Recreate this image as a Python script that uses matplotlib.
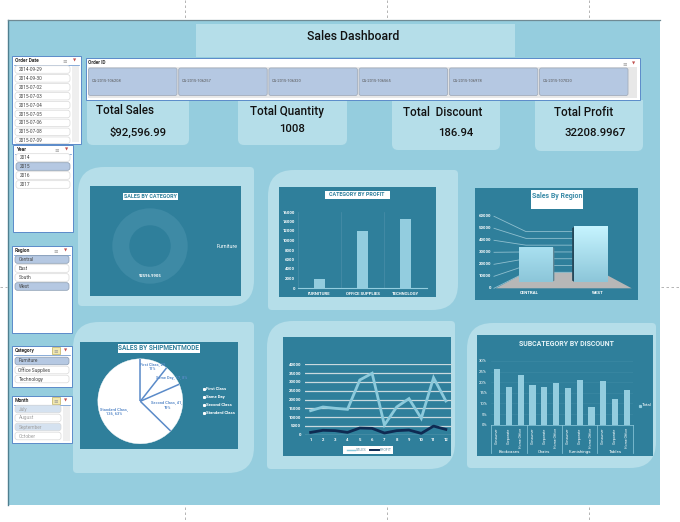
import numpy as np
import matplotlib
matplotlib.use("Agg")
import matplotlib.pyplot as plt
from matplotlib.patches import Rectangle, FancyBboxPatch, PathPatch, Polygon
from matplotlib.path import Path

plt.rcParams['font.family'] = ['Roboto', 'DejaVu Sans']

# ---------- data ----------
order_dates = ["2014-09-29", "2014-09-30", "2015-07-02", "2015-07-03", "2015-07-04",
               "2015-07-05", "2015-07-06", "2015-07-08", "2015-07-09"]
order_ids = ["CA-2015-106208", "CA-2015-106257", "CA-2015-106320",
             "CA-2015-106565", "CA-2015-106978", "CA-2015-107020"]
years = ["2014", "2015", "2016", "2017"]
regions = ["Central", "East", "South", "West"]
categories = ["Furniture", "Office Supplies", "Technology"]
months = ["July", "August", "September", "October"]

kpi_titles = ["Total Sales", "Total Quantity", "Total  Discount", "Total Profit"]
kpi_values = ["$92,596.99", "1008", "186.94", "32208.9967"]

donut_values = [100]
donut_label = "92596.9905"

profit_cats = ["FURNITURE", "OFFICE SUPPLIES", "TECHNOLOGY"]
profit_vals = [1950, 12100, 14500]
profit_ticks = list(range(0, 16001, 2000))

region_cats = ["CENTRAL", "WEST"]
region_vals = [35900, 56697]
region_ticks = list(range(0, 60001, 10000))

ship_modes = ["First Class", "Same Day", "Second Class", "Standard Class"]
ship_vals = [23, 17, 41, 136]
ship_pct = [11, 8, 19, 63]

months_num = list(range(1, 13))
sales_month = [13650, 15740, 15000, 14400, 31100, 34900, 5500, 15740, 20500, 9300, 32400, 19150]
profit_month = [1300, 2500, 2300, 1300, 3800, 3600, 950, 2300, 2650, 760, 4900, 3000]
month_ticks = list(range(0, 40001, 5000))

sub_groups = ["Bookcases", "Chairs", "Furnishings", "Tables"]
segments = ["Consumer", "Corporate", "Home Office"]
discount_vals = [26.3, 17.6, 23.3, 18.6, 17.6, 19.8, 17.3, 20.9, 8.3, 20.6, 12.1, 16.4]
discount_ticks = [0, 5, 10, 15, 20, 25, 30]

# ---------- colours ----------
PANEL = "#95CDDE"
CARD = "#B5DEE9"
CHART = "#2F7F9B"
BAR = "#93CDDF"
SEL = "#B5C8E2"
BLUE = "#5B8BC9"
W, H = 680, 522

fig = plt.figure(figsize=(W / 100, H / 100), dpi=100, facecolor="white")
bg = fig.add_axes([0, 0, 1, 1])
bg.set_xlim(0, W)
bg.set_ylim(H, 0)
bg.axis("off")
top_ax = fig.add_axes([0, 0, 1, 1], zorder=10)
top_ax.set_xlim(0, W)
top_ax.set_ylim(H, 0)
top_ax.axis("off")


def px_axes(x0, y0, x1, y1, z=3):
    a = fig.add_axes([x0 / W, 1 - y1 / H, (x1 - x0) / W, (y1 - y0) / H], zorder=z)
    a.patch.set_alpha(0)
    return a


def rbox(x0, y0, x1, y1, r=3, fc=CARD, ec="none", lw=0, z=1):
    bg.add_patch(FancyBboxPatch((x0 + r, y0 + r), x1 - x0 - 2 * r, y1 - y0 - 2 * r,
                                boxstyle=f"round,pad={r},rounding_size={r}",
                                fc=fc, ec=ec, lw=lw, zorder=z))


def leaf(x0, y0, x1, y1, r=26, small=4, z=1):
    """Card with big round top-left and bottom-right corners."""
    verts = [(x0 + r, y0), (x1 - small, y0), (x1, y0), (x1, y0 + small),
             (x1, y1 - r), (x1, y1), (x1 - r, y1),
             (x0 + small, y1), (x0, y1), (x0, y1 - small),
             (x0, y0 + r), (x0, y0), (x0 + r, y0), (x0 + r, y0)]
    codes = [Path.MOVETO, Path.LINETO, Path.CURVE3, Path.CURVE3,
             Path.LINETO, Path.CURVE3, Path.CURVE3,
             Path.LINETO, Path.CURVE3, Path.CURVE3,
             Path.LINETO, Path.CURVE3, Path.CURVE3, Path.CLOSEPOLY]
    bg.add_patch(PathPatch(Path(verts, codes), fc=CARD, ec="none", zorder=z))


# ---------- page ----------
bg.add_patch(Rectangle((8, 20), 651.5, 485, fc=PANEL, ec="none", zorder=0))
bg.plot([8, 8], [20, 505], color="#4F7F8F", lw=1.0, zorder=1)
bg.plot([8, 659.5], [20, 20], color="#6F8A94", lw=0.9, zorder=1)
DASH = dict(color="#A8A8A8", lw=0.6, ls=(0, (3, 3)), zorder=0)
for x in (185, 387, 589):
    bg.plot([x, x], [0, 18], **DASH)
    bg.plot([x, x], [507, 522], **DASH)
bg.plot([0, 7], [287, 287], **DASH)
bg.plot([661, 680], [287, 287], **DASH)

bg.add_patch(Rectangle((196, 24), 319, 33, fc=CARD, ec="none", zorder=1))
bg.text(353.5, 36, "Sales Dashboard", ha="center", va="center", fontsize=8.8,
        fontweight="medium", color="#111111", zorder=5)


# ---------- slicers ----------
def slicer(x0, y0, x1, y1, title, items, selected, pitch, first, faded=False, scroll=False, tinted=False):
    bg.add_patch(Rectangle((x0, y0), x1 - x0, y1 - y0, fc="white", ec=BLUE, lw=0.7, zorder=6))
    bg.text(x0 + 3, y0 + 4.5, title, fontsize=3.6, fontweight="bold", va="center", color="#333333", zorder=7)
    bg.plot([x0 + 2, x1 - 2], [y0 + 8.5, y0 + 8.5], color=BLUE, lw=0.5, zorder=7)
    if tinted:
        bg.add_patch(Rectangle((x1 - 20, y0 + 1), 8, 7, fc="#F2E8B0", ec="#B0A040", lw=0.4, zorder=7))
    bg.text(x1 - 16, y0 + 4.5, "≡", fontsize=4, ha="center", va="center", color="#999999", zorder=8)
    bg.text(x1 - 6, y0 + 4.5, "▼", fontsize=3, ha="center", va="center", color="#C0504D", zorder=8)
    right = x1 - 11 if scroll else x1 - 3
    if scroll:
        bg.add_patch(Rectangle((x1 - 9, y0 + 10), 7, y1 - y0 - 12, fc="#EFEFEF", ec="none", zorder=7))
    for i, it in enumerate(items):
        yc = first + i * pitch
        sel = i in selected
        fc = ("#D5E2F0" if faded else SEL) if sel else "white"
        rbox(x0 + 3, yc - pitch / 2 + 0.7, right, min(yc + pitch / 2 - 0.7, y1 - 0.5), r=2.5, fc=fc,
             ec="#8A9BB0" if sel and not faded else "#D9D9D9", lw=0.5, z=7)
        bg.text(x0 + 6.5, yc, it, fontsize=3.4, va="center",
                color="#A0A0A0" if faded else "#444444", zorder=8)


slicer(12, 56, 81, 144, "Order Date", order_dates, [], 8.9, 69.5, scroll=True)
slicer(13, 145, 73, 232, "Year", years, [1], 9, 157.5)
slicer(12, 246, 72, 333, "Region", regions, [0, 3], 9, 259.5)
slicer(12, 346, 72, 387, "Category", categories, [0], 9, 361, tinted=True)
slicer(12, 396, 72, 443, "Month", months, [0, 2], 9, 409, faded=True, scroll=True, tinted=True)

# Order ID slicer (horizontal)
bg.add_patch(Rectangle((86, 58), 554, 42, fc="white", ec=BLUE, lw=0.7, zorder=6))
bg.text(88, 63, "Order ID", fontsize=3.4, fontweight="bold", va="center", color="#333333", zorder=7)
bg.text(625, 63.5, "≡", fontsize=4, ha="center", va="center", color="#999999", zorder=8)
bg.text(634, 63.5, "▼", fontsize=3, ha="center", va="center", color="#C0504D", zorder=8)
bg.add_patch(Rectangle((88, 67), 549, 31, fc="#E8E8E8", ec="none", zorder=6))
for i, oid in enumerate(order_ids):
    x0 = 88.5 + i * 90.2
    rbox(x0, 68, x0 + 88.5, 95.5, r=2, fc=SEL, ec="#A3AEBD", lw=0.6, z=7)
    bg.text(x0 + 3, 81.5, oid, fontsize=2.9, va="center", color="#555555", zorder=8)

# ---------- KPI cards ----------
kpi_boxes = [(87, 100, 189, 145), (238, 100, 347, 145), (392, 100, 500, 150), (535, 100, 643, 151)]
kpi_title_pos = [(96, 110), (250, 112), (403, 113), (554, 113)]
kpi_val_pos = [(138.5, 132.5), (292.5, 129.5), (456, 133), (595, 133.5)]
for box, t, tp, v, vp in zip(kpi_boxes, kpi_titles, kpi_title_pos, kpi_values, kpi_val_pos):
    rbox(*box, r=6, z=2)
    bg.add_patch(Rectangle((box[0], box[1]), box[2] - box[0], 8, fc=CARD, ec="none", zorder=2))
    bg.text(tp[0], tp[1], t, fontsize=8.4, fontweight="medium", va="center", color="#111111", zorder=5)
    bg.text(vp[0], vp[1], v, fontsize=8.2, fontweight="medium", va="center", ha="center", color="#111111", zorder=5)

# ---------- chart cards ----------
leaf(78, 167, 254, 306)
leaf(268, 170, 458, 310)
leaf(73, 322, 254, 473)
leaf(267, 321, 455, 469)
leaf(467, 323, 656, 468)

for x0, y0, x1, y1 in [(90, 186, 241, 296), (279, 187, 436, 297), (475, 188, 638, 300),
                       (80, 342, 238, 449), (283, 337, 451, 456), (477, 335, 653, 456)]:
    bg.add_patch(Rectangle((x0, y0), x1 - x0, y1 - y0, fc=CHART, ec="none", zorder=2))


def title_box(xc, yc, w, h, s, fs=3.9, color="#2F7F9B", ty=None):
    bg.add_patch(Rectangle((xc - w / 2, yc - h / 2), w, h, fc="white", ec="none", zorder=4))
    bg.text(xc, yc if ty is None else ty, s, ha="center", va="center", fontsize=fs, fontweight="bold",
            color=color, zorder=5)


# 1. donut
title_box(150.5, 196, 55, 7, "SALES BY CATEGORY")
ax = px_axes(112.3, 208.3, 187.7, 283.7)
ax.pie(donut_values, radius=1, colors=["#3E8AA5"], startangle=90,
       wedgeprops=dict(width=0.45, ec="none"))
ax.set_xlim(-1, 1)
ax.set_ylim(-1, 1)
top_ax.text(150.5, 276, donut_label, ha="center", va="center", fontsize=3, fontweight="bold", color="white")
top_ax.text(227, 246.5, categories[0], ha="center", va="center", fontsize=3.8, color="white")

# 2. category by profit
title_box(357, 195, 65, 8, "CATEGORY BY PROFIT")
ax = px_axes(298, 212, 427, 288)
ax.bar(range(3), profit_vals, width=0.27, color=BAR, zorder=3)
ax.set_xlim(-0.5, 2.5)
ax.set_ylim(0, 16000)
ax.set_xticks(range(3), profit_cats)
ax.set_yticks(profit_ticks)
ax.tick_params(length=0, colors="white", labelsize=3.1, pad=2)
for l in ax.get_xticklabels() + ax.get_yticklabels():
    l.set_fontweight("bold")
for v in (0.5, 1.5):
    ax.axvline(v, color="#4A8EA8", lw=0.5)
for s in ("top", "right"):
    ax.spines[s].set_visible(False)
ax.spines["left"].set_color("#4A8EA8")
ax.spines["left"].set_linewidth(0.5)
ax.spines["bottom"].set_color(BAR)
ax.spines["bottom"].set_linewidth(0.8)
ax.tick_params(axis="x", pad=3)

# 3. sales by region (pseudo 3-D)
title_box(557, 199.5, 52, 19, "Sales By Region", fs=5, color="#3C8CA8", ty=196)
bg.add_patch(Polygon([(495.7, 288.3), (631.7, 288.3), (601.7, 272.3), (525.7, 272.3)],
                     fc="#B7B7B7", ec="none", zorder=3))
for t in region_ticks:
    f = t / region_ticks[-1]
    yl = 288.3 - f * 72
    yb = 272.3 - f * 40.7
    bg.plot([494, 526, 574], [yl, yb, yb], color="#8FBFCF", lw=0.6, zorder=3)
    bg.text(491, yl, str(t), ha="right", va="center", fontsize=3.1, fontweight="bold", color="white", zorder=5)
ax = px_axes(507.75, 223.7, 618.75, 282, z=4)
ax.set_xlim(-0.5, 1.5)
ax.set_ylim(0, region_ticks[-1])
ax.axis("off")
tops = ["#A9E0F0", "#C6F4FF"]
for i, (b, top) in enumerate(zip(ax.bar(range(2), region_vals, width=0.6, color="none"), tops)):
    grad = np.linspace(0, 1, 64)[:, None, None] * (np.array(matplotlib.colors.to_rgb("#8CC6D9")) -
                                                 np.array(matplotlib.colors.to_rgb(top))) + \
        np.array(matplotlib.colors.to_rgb(top))
    ax.imshow(grad, extent=(b.get_x(), b.get_x() + b.get_width(), 0, b.get_height()),
              aspect="auto", zorder=3)
    dx = 0.04
    x_edge = b.get_x() + b.get_width() if i == 0 else b.get_x()
    sign = 1 if i == 0 else -1
    ax.add_patch(Polygon([(x_edge, 0), (x_edge, b.get_height()),
                          (x_edge + sign * dx, b.get_height() * 0.98), (x_edge + sign * dx, 1500)],
                         fc="#5F8796" if i == 0 else "#25485A", ec="none", zorder=2, clip_on=False))
ax.set_xlim(-0.5, 1.5)
ax.set_ylim(0, region_ticks[-1])
for c, xc in zip(region_cats, (529.5, 598)):
    bg.text(xc, 293, c, ha="center", va="center", fontsize=3.2, fontweight="bold", color="white", zorder=5)

# 4. pie
title_box(158.5, 348.5, 82, 8.5, "SALES BY SHIPMENTMODE", fs=4.7)
ax = px_axes(97, 358, 183.6, 444.6)
wedges, _ = ax.pie(ship_vals, startangle=90, counterclock=False, radius=1,
                   colors=["white"] * 4, wedgeprops=dict(ec="white", lw=0.3))
ax.set_xlim(-1.02, 1.02)
ax.set_ylim(-1.02, 1.02)
for w_ in wedges:
    a_ = np.deg2rad(w_.theta1)
    ax.plot([0, np.cos(a_)], [0, np.sin(a_)], color=BLUE, lw=1.1, zorder=5, solid_capstyle="butt")
pie_lab = [(152.7, 367), (172, 378), (167, 405.7), (114, 412)]
pie_text = ["{m}, {v},\n{p}%", "{m}, {v}, {p}%", "{m}, {v},\n{p}%", "{m},\n{v}, {p}%"]
for fmt, m, v, p, (x, y) in zip(pie_text, ship_modes, ship_vals, ship_pct, pie_lab):
    top_ax.text(x, y, fmt.format(m=m, v=v, p=p), ha="center", va="center", fontsize=2.8,
                fontweight="bold", color=BLUE, linespacing=1.2)
for i, m in enumerate(ship_modes):
    yy = 388.7 + i * 8
    bg.plot([203.5], [yy], "s", ms=1.2, color="white", zorder=5)
    bg.text(206, yy, m, fontsize=3.1, fontweight="bold", va="center", color="white", zorder=5)

# 5. line chart
ax = px_axes(304.5, 364.3, 452, 434.7)
ax.plot(months_num, sales_month, color="#8CCADC", lw=2, zorder=3, label="SALES", solid_joinstyle="miter")
ax.plot(months_num, profit_month, color="#0E2A52", lw=2, zorder=4, label="PROFIT")
ax.set_xlim(0.5, 12.5)
ax.set_ylim(0, 40000)
ax.set_xticks(months_num)
ax.set_yticks(month_ticks)
ax.grid(axis="y", color="#C9D9DE", lw=0.9, zorder=1)
ax.tick_params(length=0, colors="white", labelsize=3.1, pad=2.5)
for l in ax.get_xticklabels() + ax.get_yticklabels():
    l.set_fontweight("bold")
for s in ax.spines.values():
    s.set_visible(False)
bg.add_patch(Rectangle((343, 445.7), 49.7, 8, fc="white", ec="none", zorder=4))
bg.plot([347, 355], [449.7, 449.7], color="#8CCADC", lw=1, zorder=5)
bg.text(356, 449.7, "SALES", fontsize=2.6, va="center", color="#5B8BA0", zorder=5)
bg.plot([370, 379], [449.7, 449.7], color="#0E2A52", lw=1.4, zorder=5)
bg.text(380, 449.7, "PROFIT", fontsize=2.6, va="center", color="#5B8BA0", zorder=5)

# 6. subcategory by discount
bg.text(566, 343.5, "SUBCATEGORY BY DISCOUNT", ha="center", va="center", fontsize=5,
        fontweight="bold", color="#E6F4F8", zorder=5)
ax = px_axes(491.3, 361, 632.7, 424.7)
ax.bar(range(12), discount_vals, width=0.52, color=BAR, zorder=3)
ax.set_xlim(-0.5, 11.5)
ax.set_ylim(0, 30)
ax.set_yticks(discount_ticks, [f"{t}%" for t in discount_ticks])
ax.set_xticks([])
ax.tick_params(length=0, colors="white", labelsize=3.1, pad=3)
ax.grid(axis="y", color="#3F8BA5", lw=0.4, zorder=1)
for s in ("top", "right", "left"):
    ax.spines[s].set_visible(False)
ax.spines["bottom"].set_color(BAR)
ax.spines["bottom"].set_linewidth(0.5)
for i in range(12):
    ax.annotate(segments[i % 3], xy=(i, 0), xytext=(0, -2), textcoords="offset points",
                rotation=90, ha="center", va="top", fontsize=2.6, color="white", annotation_clip=False)
for g in range(5):
    ax.plot([g * 3 - 0.5] * 2, [0, -13.5], color=BAR, lw=0.5, clip_on=False)
for g, name in enumerate(sub_groups):
    ax.text(g * 3 + 1, -12.7, name, ha="center", va="center", fontsize=3.2, color="white", clip_on=False)
bg.plot([639.5], [406], "s", ms=1.3, color=BAR, zorder=6)
bg.text(641.5, 405, "Total", fontsize=3.1, va="center", color="white", zorder=6)

fig.savefig("out.png", dpi=100, facecolor="white")
